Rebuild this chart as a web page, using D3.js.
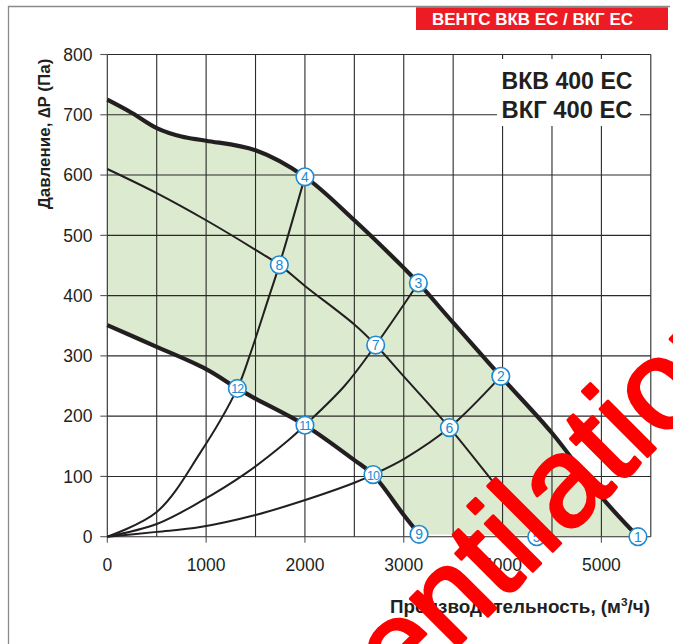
<!DOCTYPE html>
<html><head><meta charset="utf-8">
<script src="https://cdn.jsdelivr.net/npm/d3@7"></script>
<style>html,body{margin:0;padding:0;background:#fff;}svg{display:block;}</style>
</head><body>
<svg id="chart" width="673" height="644"></svg>
<script>
// ---- data ----
const xTicks = [0, 1000, 2000, 3000, 4000, 5000];
const yTicks = [0, 100, 200, 300, 400, 500, 600, 700, 800];
const xGrid = [0, 500, 1000, 1500, 2000, 2500, 3000, 3500, 4000, 4500, 5000, 5500];
const yGrid = [0, 100, 200, 300, 400, 500, 600, 700, 800];

const upperFlow = [0, 250, 500, 750, 1000, 1500, 2000, 2500, 3000, 3148, 3500, 3982, 4500, 5000, 5370];
const upperPressure = [725, 703, 678, 664, 657, 641, 597, 525, 446, 421, 355, 266, 172, 66, 0];

const lowerFlow = [0, 500, 1000, 1316, 1500, 2000, 2500, 2689, 3000, 3155];
const lowerPressure = [351, 315, 278, 246, 229, 185, 127, 103, 36, 4];

const midFlow = [0, 500, 1000, 1500, 1741, 2000, 2500, 2716, 3000, 3462, 4000, 4346];
const midPressure = [610, 570, 525, 476, 451, 416, 352, 318, 266, 181, 71, 0];

const sysAFlow = [0, 500, 940, 1316, 1440, 1630, 1741, 2000];
const sysAPressure = [0, 41, 139, 246, 300, 395, 451, 597];

const sysBFlow = [0, 500, 940, 1400, 1832, 2000, 2400, 2716, 3148];
const sysBPressure = [0, 21, 58, 105, 160, 185, 250, 318, 421];

const sysCFlow = [0, 500, 940, 1500, 1948, 2507, 2689, 3013, 3462, 3982];
const sysCPressure = [0, 8, 16, 36, 58, 90, 103, 130, 181, 266];

const pointLabels = ["1","2","3","4","5","6","7","8","9","10","11","12"];
const pointFlow = [5370, 3982, 3148, 2000, 4346, 3462, 2716, 1741, 3155, 2689, 2000, 1316];
const pointPressure = [0, 266, 421, 597, 0, 181, 318, 451, 4, 103, 185, 246];

const bannerText = "ВЕНТС ВКВ ЕС / ВКГ ЕС";
const modelLines = ["ВКВ 400 ЕС", "ВКГ 400 ЕС"];
const yTitle = "Давление, ∆P (Па)";
const watermark = "ventilation";

// ---- chart ----
const svg = d3.select("#chart");
const x = d3.scaleLinear().domain([0, 5500]).range([107.3, 650.8]);
const y = d3.scaleLinear().domain([0, 800]).range([536.7, 54.5]);
const ink = "#231f20";
const zip = (a, b) => a.map((v, i) => [v, b[i]]);

const line = d3.line().x(d => x(d[0])).y(d => y(d[1])).curve(d3.curveCatmullRom.alpha(0.5));

// outer frame
svg.append("path").attr("d", "M8.5,650 L8.5,6.5 L670,6.5").attr("fill", "none")
  .attr("stroke", "#8a8a8a").attr("stroke-width", 1.3);
// banner
svg.append("rect").attr("x", 416).attr("y", 7.3).attr("width", 252).attr("height", 22.7).attr("fill", "#ed1c24");
svg.append("text").attr("x", 532.5).attr("y", 25).attr("text-anchor", "middle")
  .attr("font-family", "Liberation Sans, Arial, sans-serif").attr("font-weight", "bold")
  .attr("font-size", 16.5).attr("fill", "#fff").attr("textLength", 201).attr("lengthAdjust", "spacingAndGlyphs")
  .text(bannerText);

// green fill
const upperPts = zip(upperFlow, upperPressure);
const lowerPts = zip(lowerFlow, lowerPressure);
const fillPath = line(upperPts) + "L" + line(lowerPts.slice().reverse()).slice(1) + "Z";
svg.append("path").attr("d", fillPath).attr("fill", "#dcead0").attr("stroke", "none");

// grid
svg.append("g").selectAll("line").data(xGrid).join("line")
  .attr("x1", d => x(d)).attr("x2", d => x(d)).attr("y1", y(800)).attr("y2", y(0))
  .attr("stroke", "#2a2a2a").attr("stroke-width", 1.1);
svg.append("g").selectAll("line").data(yGrid).join("line")
  .attr("x1", x(0)).attr("x2", x(5500)).attr("y1", d => y(d)).attr("y2", d => y(d))
  .attr("stroke", "#2a2a2a").attr("stroke-width", 1.1);
// ticks
svg.append("g").selectAll("line").data(yTicks).join("line")
  .attr("x1", x(0) - 7).attr("x2", x(0)).attr("y1", d => y(d)).attr("y2", d => y(d))
  .attr("stroke", "#555").attr("stroke-width", 1.1);
svg.append("g").selectAll("line").data(xTicks).join("line")
  .attr("x1", d => x(d)).attr("x2", d => x(d)).attr("y1", y(0)).attr("y2", y(0) + 6)
  .attr("stroke", "#555").attr("stroke-width", 1.1);

// tick labels
svg.append("g").selectAll("text").data(yTicks).join("text")
  .attr("x", 92.5).attr("y", d => y(d) + 6.2).attr("text-anchor", "end")
  .attr("font-family", "Liberation Sans, Arial, sans-serif").attr("font-size", 17.5).attr("fill", ink)
  .text(d => d);
svg.append("g").selectAll("text").data(xTicks).join("text")
  .attr("x", d => x(d)).attr("y", 571).attr("text-anchor", "middle")
  .attr("font-family", "Liberation Sans, Arial, sans-serif").attr("font-size", 17.5).attr("fill", ink)
  .text(d => d);

// legend box
svg.append("rect").attr("x", 497).attr("y", 59).attr("width", 143).attr("height", 67).attr("fill", "#fff");
svg.append("g").selectAll("text").data(modelLines).join("text")
  .attr("x", 501.5).attr("y", (d, i) => 89.3 + i * 29)
  .attr("font-family", "Liberation Sans, Arial, sans-serif").attr("font-weight", "bold")
  .attr("font-size", 23).attr("fill", ink).attr("textLength", 131).attr("lengthAdjust", "spacingAndGlyphs")
  .text(d => d);

// thin curves
[[midFlow, midPressure], [sysAFlow, sysAPressure], [sysBFlow, sysBPressure], [sysCFlow, sysCPressure]]
  .forEach(([f, p]) => {
    svg.append("path").attr("d", line(zip(f, p))).attr("fill", "none")
      .attr("stroke", ink).attr("stroke-width", 2);
  });
// thick curves
[upperPts, lowerPts].forEach(pts => {
  svg.append("path").attr("d", line(pts)).attr("fill", "none")
    .attr("stroke", ink).attr("stroke-width", 4.2).attr("stroke-linejoin", "round");
});

// point markers
const pts = pointLabels.map((l, i) => ({l, f: pointFlow[i], p: pointPressure[i]}));
const g = svg.append("g").selectAll("g").data(pts).join("g")
  .attr("transform", d => `translate(${x(d.f)},${y(d.p)})`);
g.append("circle").attr("r", 8.8).attr("fill", "#fff").attr("stroke", "#1d8ad2").attr("stroke-width", 1.6);
g.append("text").attr("y", 5).attr("text-anchor", "middle")
  .attr("font-family", "Liberation Sans, Arial, sans-serif").attr("font-size", d => d.l.length > 1 ? 12.5 : 14)
  .attr("letter-spacing", d => d.l.length > 1 ? -0.9 : 0)
  .attr("fill", "#1d8ad2").text(d => d.l);

// axis titles
svg.append("text").attr("transform", "translate(50,134) rotate(-90)").attr("text-anchor", "middle")
  .attr("font-family", "Liberation Sans, Arial, sans-serif").attr("font-weight", "bold")
  .attr("font-size", 17).attr("fill", ink).text(yTitle);
const xt = svg.append("text").attr("x", 650).attr("y", 613).attr("text-anchor", "end")
  .attr("font-family", "Liberation Sans, Arial, sans-serif").attr("font-weight", "bold")
  .attr("font-size", 17.5).attr("fill", ink).attr("textLength", 260).attr("lengthAdjust", "spacingAndGlyphs");
xt.append("tspan").text("Производительность, (м");
xt.append("tspan").attr("dy", -7).attr("font-size", 11).text("3");
xt.append("tspan").attr("dy", 7).text("/ч)");

// watermark
svg.append("text").attr("transform", "translate(357,747) rotate(-45)")
  .attr("font-family", "Liberation Sans, Arial, sans-serif").attr("font-size", 127)
  .attr("fill", "#ff0000").attr("stroke", "#ff0000").attr("stroke-width", 3).attr("stroke-linejoin", "round")
  .text(watermark);
</script>
</body></html>
